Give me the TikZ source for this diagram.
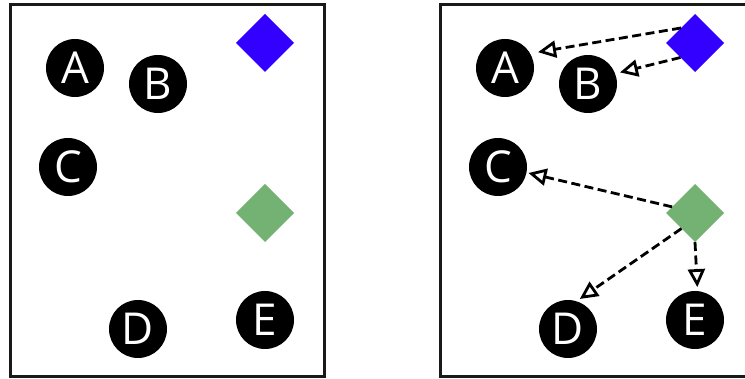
\documentclass[tikz,border=0pt]{standalone}
\usepackage{fontspec}
\setmainfont{Open Sans}
\usetikzlibrary{shapes.geometric,arrows.meta}
\definecolor{markblue}{HTML}{3300FF}
\definecolor{markgreen}{HTML}{74B273}
\tikzset{
  frame/.style={draw=black!90, line width=3pt},
  dot/.style={circle, fill=black, text=white, minimum size=58pt, inner sep=0pt, outer sep=0pt,
    font=\fontsize{44}{44}\selectfont},
  gem/.style={diamond, minimum width=58pt, minimum height=58pt, inner sep=0pt, outer sep=0pt},
  link/.style={draw=black, line width=2.8pt, dash pattern=on 9pt off 4.5pt,
    -{Triangle[open, fill=white, length=18pt, width=17pt]}}
}
\begin{document}
\begin{tikzpicture}[x=1pt, y=-1pt]
\useasboundingbox (0,0) rectangle (745,379);
\clip (0,0) rectangle (745,379);

% left panel: the points on their own
\draw[frame] (10,5) rectangle (324,377);
\node[dot] (lA) at (75,68) {A};
\node[dot] (lB) at (158,84) {B};
\node[dot] (lC) at (68,167) {C};
\node[dot] (lD) at (138,329) {D};
\node[dot] (lE) at (265,320) {E};
\node[gem, fill=markblue] (lblue) at (265,43) {};
\node[gem, fill=markgreen] (lgreen) at (265,213) {};

% right panel: the same points, linked to their diamond
\draw[frame] (440,5) rectangle (754,377);
\node[dot] (A) at (505,68) {A};
\node[dot] (B) at (588,84) {B};
\node[dot] (C) at (498,167) {C};
\node[dot] (D) at (568,329) {D};
\node[dot] (E) at (695,320) {E};
\node[gem, fill=markblue] (blue) at (695,43) {};
\node[gem, fill=markgreen] (green) at (695,213) {};

\draw[link, shorten >=8pt] (blue.133) -- (A.30);
\draw[link, shorten >=5pt] (blue.225) -- (B.21);
\draw[link, shorten >=2pt] (green.165) -- (C.-11);
\draw[link, shorten >=4pt] (green.229) -- (D.73);
\draw[link, shorten >=4pt] (green.south) -- (E.85);
\end{tikzpicture}
\end{document}
